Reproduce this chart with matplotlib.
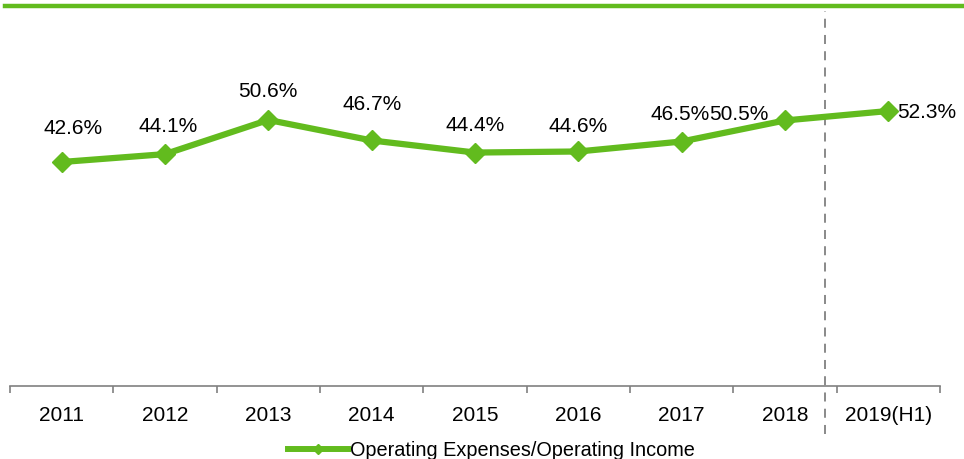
import matplotlib.pyplot as plt
from matplotlib.lines import Line2D
import numpy as np

plt.rcParams['font.family'] = ['Liberation Sans', 'DejaVu Sans']

years = ['2011', '2012', '2013', '2014', '2015', '2016', '2017', '2018', '2019(H1)']
ratio = [42.6, 44.1, 50.6, 46.7, 44.4, 44.6, 46.5, 50.5, 52.3]
series_name = 'Operating Expenses/Operating Income'

green = '#62BB1E'
gray = '#808080'

# label offsets in points (dx, dy) and alignment, tuned per point
label_offsets = [(8, 18), (2, 13.5), (0, 14), (0, 20), (0, 13), (0, 12), (-1, 13), (-33, -2), (6, 0)]
label_align = ['center'] * 7 + ['center', 'left']

fig = plt.figure(figsize=(9.64, 4.6), dpi=100)
W, H = 964, 460
ax = fig.add_axes([10 / W, 1 - 387 / H, 930 / W, 377 / H])

xpos = np.arange(len(years))
ax.plot(xpos, ratio, color=green, lw=4.5, marker='D', markersize=10.5,
        markerfacecolor=green, markeredgecolor=green, zorder=3, clip_on=False)

for i, v in enumerate(ratio):
    dx, dy = label_offsets[i]
    va = 'center' if label_align[i] == 'left' else 'bottom'
    ax.annotate(f'{v:.1f}%', xy=(i, v), xytext=(dx, dy), textcoords='offset points',
                ha=label_align[i], va=va, fontsize=15, color='black')

ax.set_xlim(-0.5, len(years) - 0.5)
ax.set_ylim(0, 71.7)

for s in ['top', 'left', 'right']:
    ax.spines[s].set_visible(False)
ax.spines['bottom'].set_color(gray)
ax.spines['bottom'].set_linewidth(1.2)
ax.set_yticks([])

ax.set_xticks(xpos)
ax.set_xticklabels(years, fontsize=15)
ax.tick_params(axis='x', which='major', length=0, pad=13.5)
ax.set_xticks(np.arange(-0.5, len(years)), minor=True)
ax.tick_params(axis='x', which='minor', length=5, width=1.2, color=gray, direction='out')

# dashed separator before the half-year value
ax.axvline(7.39, ymin=-0.127, ymax=0.995, color=gray, lw=1.3, ls=(0, (5, 4)), clip_on=False)

# thick green rule at the top of the figure
fig.add_artist(Line2D([5 / W, 1], [1 - 7 / H, 1 - 7 / H], transform=fig.transFigure,
                      color=green, lw=3.2))

handle = Line2D([], [], color=green, lw=4.3, marker='D', markersize=5,
                markerfacecolor=green, markeredgecolor=green)
fig.legend([handle], [series_name], loc='center', bbox_to_anchor=(491.5 / W, 1 - 451 / H),
           frameon=False, fontsize=14.3, handlelength=3.0, handletextpad=0.1,
           borderpad=0, borderaxespad=0)

fig.savefig('out.png', dpi=100)
